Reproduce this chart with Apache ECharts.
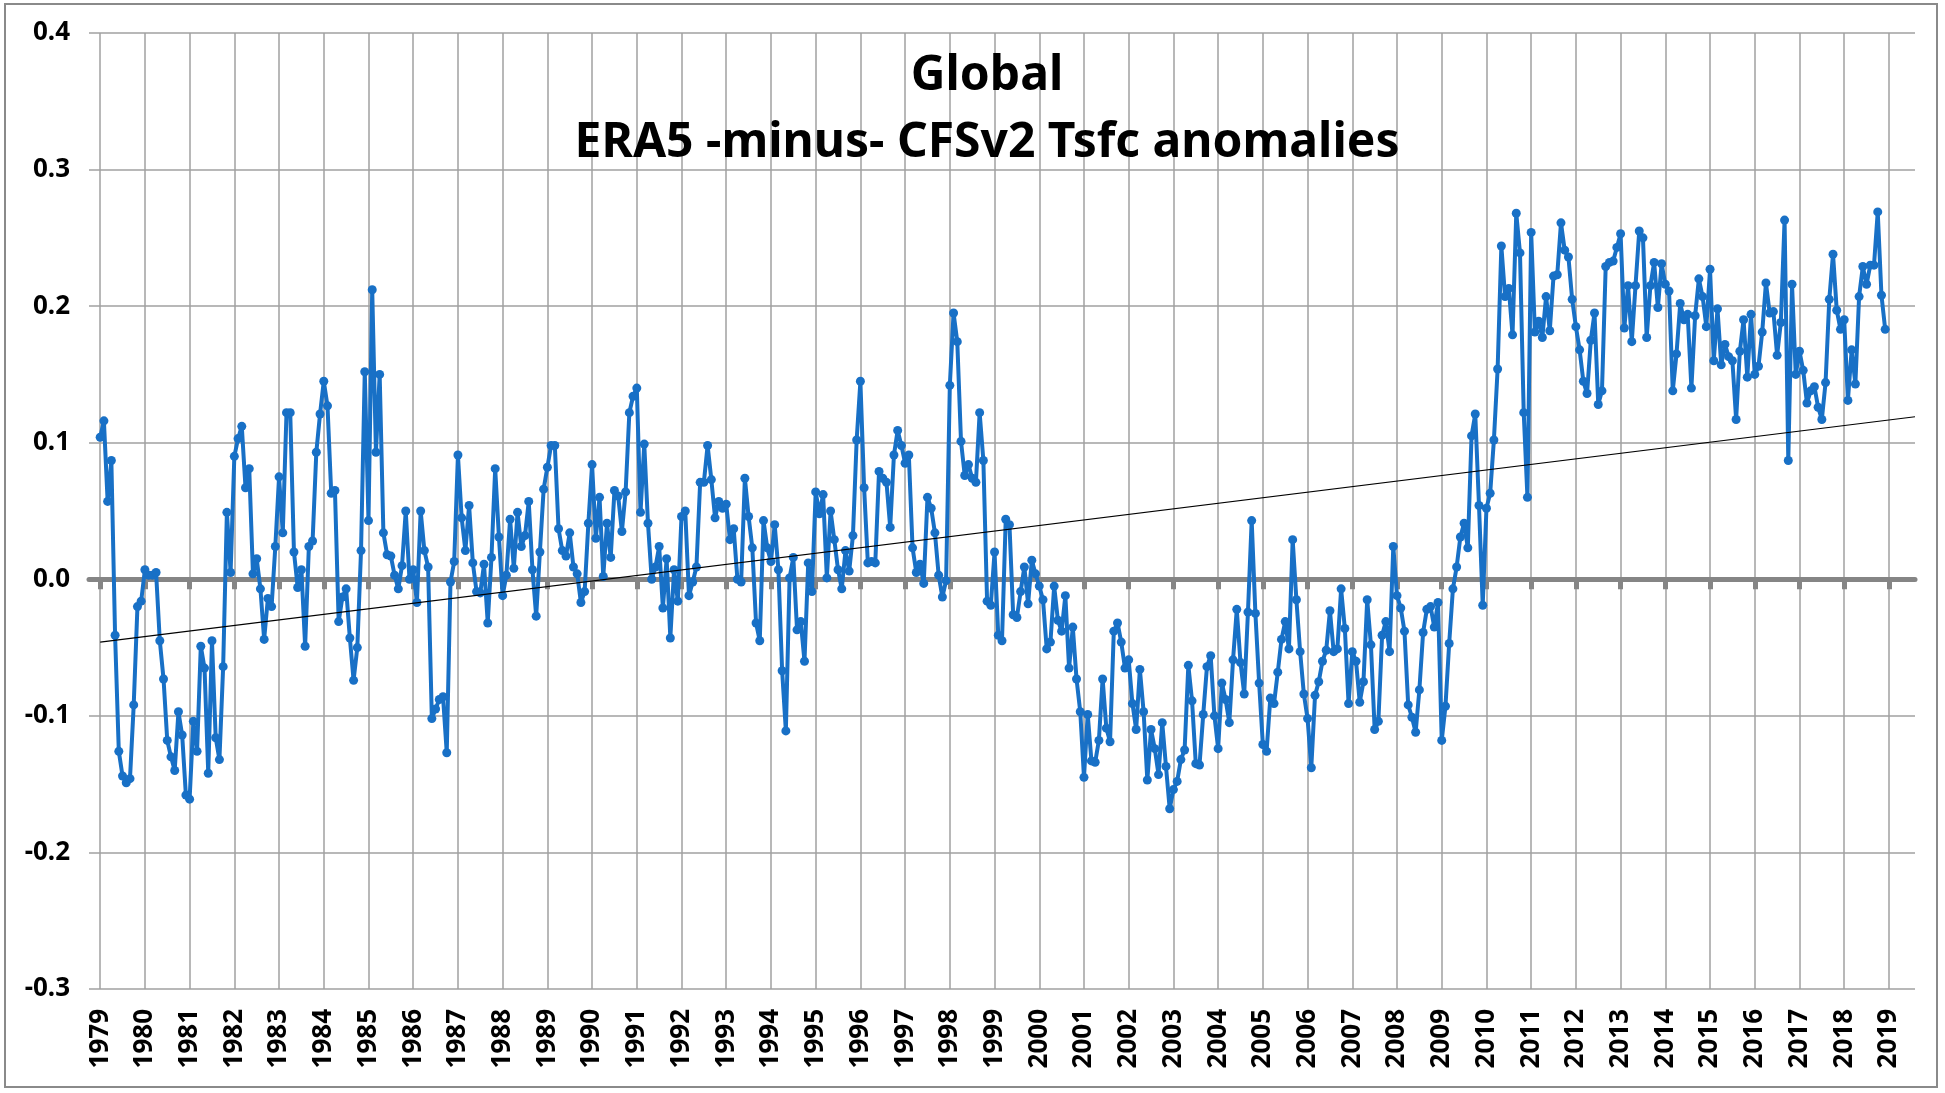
<!DOCTYPE html>
<html>
<head>
<meta charset="utf-8">
<title>ERA5 -minus- CFSv2 Tsfc anomalies</title>
<script src="https://cdn.jsdelivr.net/npm/echarts@6/dist/echarts.min.js"></script>
<style>
  html, body { margin: 0; padding: 0; background: #fff; }
  #chart { width: 1945px; height: 1093px; }
  #frame { position: absolute; left: 4px; top: 3px; width: 1930px; height: 1081px;
           border: 2px solid #8a8a8a; pointer-events: none; }
</style>
</head>
<body>
<div id="chart"></div>
<div id="frame"></div>
<script>
// monthly data, Jan 1979 .. Dec 2018 (one row per year)
var firstYear = 1979;
var anomalies = [
   0.104,  0.116,  0.057,  0.087, -0.041, -0.126, -0.144, -0.149, -0.146, -0.092, -0.020, -0.016, // 1979
   0.007,  0.003,  0.003,  0.005, -0.045, -0.073, -0.118, -0.130, -0.140, -0.097, -0.114, -0.158, // 1980
  -0.161, -0.104, -0.126, -0.049, -0.065, -0.142, -0.045, -0.116, -0.132, -0.064,  0.049,  0.005, // 1981
   0.090,  0.103,  0.112,  0.067,  0.081,  0.004,  0.015, -0.007, -0.044, -0.014, -0.020,  0.024, // 1982
   0.075,  0.034,  0.122,  0.122,  0.020, -0.006,  0.007, -0.049,  0.024,  0.028,  0.093,  0.121, // 1983
   0.145,  0.127,  0.063,  0.065, -0.031, -0.013, -0.007, -0.043, -0.074, -0.050,  0.021,  0.152, // 1984
   0.043,  0.212,  0.093,  0.150,  0.034,  0.018,  0.017,  0.003, -0.007,  0.010,  0.050,  0.000, // 1985
   0.007, -0.017,  0.050,  0.021,  0.009, -0.102, -0.095, -0.088, -0.086, -0.127, -0.002,  0.013, // 1986
   0.091,  0.045,  0.021,  0.054,  0.012, -0.009, -0.010,  0.011, -0.032,  0.016,  0.081,  0.031, // 1987
  -0.012,  0.003,  0.044,  0.008,  0.049,  0.024,  0.032,  0.057,  0.007, -0.027,  0.020,  0.066, // 1988
   0.082,  0.098,  0.098,  0.037,  0.021,  0.017,  0.034,  0.009,  0.004, -0.017, -0.009,  0.041, // 1989
   0.084,  0.030,  0.060,  0.002,  0.041,  0.016,  0.065,  0.061,  0.035,  0.064,  0.122,  0.134, // 1990
   0.140,  0.049,  0.099,  0.041,  0.000,  0.009,  0.024, -0.021,  0.015, -0.043,  0.007, -0.016, // 1991
   0.046,  0.050, -0.012, -0.002,  0.009,  0.071,  0.071,  0.098,  0.073,  0.045,  0.057,  0.052, // 1992
   0.055,  0.029,  0.037,  0.000, -0.002,  0.074,  0.046,  0.023, -0.032, -0.045,  0.043,  0.023, // 1993
   0.013,  0.040,  0.007, -0.067, -0.111,  0.001,  0.016, -0.037, -0.031, -0.060,  0.012, -0.009, // 1994
   0.064,  0.048,  0.062,  0.001,  0.050,  0.029,  0.007, -0.007,  0.021,  0.006,  0.032,  0.102, // 1995
   0.145,  0.067,  0.012,  0.013,  0.012,  0.079,  0.074,  0.071,  0.038,  0.091,  0.109,  0.098, // 1996
   0.085,  0.091,  0.023,  0.005,  0.011, -0.003,  0.060,  0.052,  0.034,  0.003, -0.013, -0.001, // 1997
   0.142,  0.195,  0.174,  0.101,  0.076,  0.084,  0.074,  0.071,  0.122,  0.087, -0.016, -0.019, // 1998
   0.020, -0.041, -0.045,  0.044,  0.040, -0.026, -0.028, -0.009,  0.009, -0.018,  0.014,  0.004, // 1999
  -0.005, -0.015, -0.051, -0.046, -0.005, -0.030, -0.038, -0.012, -0.065, -0.035, -0.073, -0.097, // 2000
  -0.145, -0.099, -0.133, -0.134, -0.118, -0.073, -0.109, -0.119, -0.038, -0.032, -0.046, -0.065, // 2001
  -0.059, -0.091, -0.110, -0.066, -0.097, -0.147, -0.110, -0.124, -0.143, -0.105, -0.137, -0.168, // 2002
  -0.154, -0.148, -0.132, -0.125, -0.063, -0.089, -0.135, -0.136, -0.099, -0.064, -0.056, -0.100, // 2003
  -0.124, -0.076, -0.088, -0.105, -0.059, -0.022, -0.061, -0.084, -0.024,  0.043, -0.025, -0.076, // 2004
  -0.121, -0.126, -0.087, -0.091, -0.068, -0.044, -0.031, -0.051,  0.029, -0.015, -0.053, -0.084, // 2005
  -0.102, -0.138, -0.085, -0.075, -0.060, -0.052, -0.023, -0.053, -0.051, -0.007, -0.036, -0.091, // 2006
  -0.053, -0.060, -0.090, -0.075, -0.015, -0.048, -0.110, -0.104, -0.041, -0.031, -0.053,  0.024, // 2007
  -0.012, -0.021, -0.038, -0.092, -0.101, -0.112, -0.081, -0.039, -0.022, -0.020, -0.035, -0.017, // 2008
  -0.118, -0.093, -0.047, -0.007,  0.009,  0.031,  0.041,  0.023,  0.105,  0.121,  0.054, -0.019, // 2009
   0.052,  0.063,  0.102,  0.154,  0.244,  0.207,  0.213,  0.179,  0.268,  0.239,  0.122,  0.060, // 2010
   0.254,  0.181,  0.189,  0.177,  0.207,  0.182,  0.222,  0.223,  0.261,  0.241,  0.236,  0.205, // 2011
   0.185,  0.168,  0.145,  0.136,  0.175,  0.195,  0.128,  0.138,  0.229,  0.232,  0.233,  0.243, // 2012
   0.253,  0.184,  0.215,  0.174,  0.215,  0.255,  0.250,  0.177,  0.215,  0.232,  0.199,  0.231, // 2013
   0.216,  0.211,  0.138,  0.165,  0.202,  0.190,  0.194,  0.140,  0.193,  0.220,  0.207,  0.185, // 2014
   0.227,  0.160,  0.198,  0.157,  0.172,  0.163,  0.160,  0.117,  0.167,  0.190,  0.148,  0.194, // 2015
   0.150,  0.156,  0.181,  0.217,  0.195,  0.196,  0.164,  0.188,  0.263,  0.087,  0.216,  0.150, // 2016
   0.167,  0.153,  0.129,  0.138,  0.141,  0.126,  0.117,  0.144,  0.205,  0.238,  0.197,  0.183, // 2017
   0.190,  0.131,  0.168,  0.143,  0.207,  0.229,  0.216,  0.230,  0.230,  0.269,  0.208,  0.183  // 2018
];

// linear trend as drawn (value at Jan 1979, value at right edge of the plot)
var trendEnds = [-0.046, 0.119];

var yMin = -0.3, yMax = 0.4, yStep = 0.1;

// month categories, Oct 1978 .. Aug 2019 (a little blank room on both sides)
var padBefore = 3, padAfter = 8;
var months = [];
for (var m = -padBefore; m < anomalies.length + padAfter; m++) {
  var yr = firstYear + Math.floor(m / 12);
  var mo = ((m % 12) + 12) % 12 + 1;
  months.push(yr + '-' + (mo < 10 ? '0' : '') + mo);
}
function isJan(idx, name) { return name.slice(5) === '01'; }

var chart = echarts.init(document.getElementById('chart'));

var blue = '#1870c6';
var grey = '#858585';
var font = 'Noto Sans';

chart.setOption({
  animation: false,
  title: {
    text: 'Global\nERA5 -minus- CFSv2 Tsfc anomalies',
    left: 982,
    top: 38,
    textAlign: 'center',
    textStyle: {
      fontFamily: font, fontWeight: 'bold', fontSize: 48,
      lineHeight: 67, color: '#000'
    }
  },
  grid: { left: 89, right: 30, top: 33, bottom: 104, containLabel: false },
  xAxis: [{
    type: 'category',
    data: months,
    boundaryGap: false,
    position: 'bottom',
    axisLine: { show: false, onZero: false },
    axisTick: { show: false },
    axisLabel: {
      interval: isJan,
      rotate: 90,
      margin: 20,
      fontFamily: font, fontWeight: 'bold', fontSize: 26, color: '#000',
      formatter: function (v) { return v.slice(0, 4); }
    },
    splitLine: { show: true, interval: isJan, lineStyle: { color: '#a0a0a0', width: 1.5 } }
  }, {
    // the heavy zero line with its year ticks
    type: 'category',
    data: months,
    boundaryGap: false,
    position: 'bottom',
    axisLine: { show: true, onZero: true, onZeroAxisIndex: 0, lineStyle: { color: grey, width: 5 } },
    axisTick: { show: true, interval: isJan, length: 10, lineStyle: { color: grey, width: 5 } },
    axisLabel: { show: false },
    splitLine: { show: false }
  }],
  yAxis: {
    type: 'value',
    min: yMin, max: yMax, interval: yStep,
    axisLine: { show: false },
    axisTick: { show: false },
    axisLabel: {
      margin: 19,
      fontFamily: font, fontWeight: 'bold', fontSize: 26, color: '#000',
      formatter: function (v) { return Math.abs(v) < 1e-9 ? '0.0' : v.toFixed(1); }
    },
    splitLine: { lineStyle: { color: '#a0a0a0', width: 1.5 } }
  },
  series: [{
    name: 'ERA5 - CFSv2',
    type: 'line',
    xAxisIndex: 0,
    data: anomalies.map(function (v, i) { return [months[i + padBefore], v]; }),
    symbol: 'circle',
    symbolSize: 9,
    showAllSymbol: true,
    lineStyle: { color: blue, width: 4 },
    itemStyle: { color: blue },
    z: 3
  }, {
    name: 'trend',
    type: 'line',
    xAxisIndex: 0,
    data: [[months[padBefore], trendEnds[0]], [months[months.length - 1], trendEnds[1]]],
    symbol: 'none',
    lineStyle: { color: '#000', width: 1.2 },
    z: 4
  }]
});
</script>
</body>
</html>
